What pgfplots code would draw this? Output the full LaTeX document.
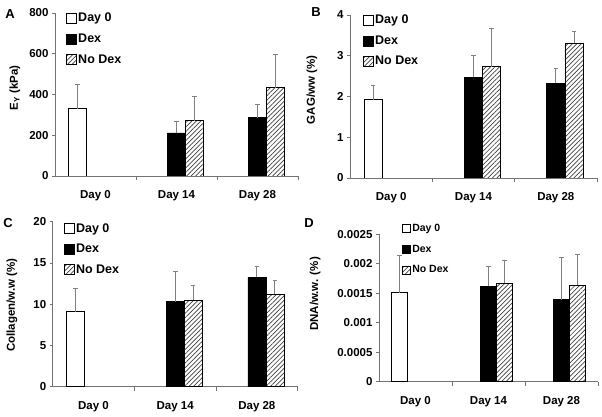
\documentclass[border=0pt]{standalone}
\usepackage{pgfplots}
\pgfplotsset{compat=1.18}
\usepackage{fontspec}
\setmainfont{Liberation Sans}
\usetikzlibrary{patterns.meta}
\definecolor{axgray}{gray}{0.45}
\definecolor{errgray}{gray}{0.5}
\pgfplotsset{
  panel/.style={
    scale only axis,
    axis x line*=bottom, axis y line*=left,
    xmin=-0.5, xmax=2.5, ymin=0,
    xtick={0,1,2}, xticklabels={Day 0,Day 14,Day 28},
    minor xtick={0.5,1.5,2.5},
    tick align=outside,
    major tick length=3pt, minor tick length=4pt,
    axis line style={axgray, line width=0.7pt},
    tick style={axgray, line width=0.7pt},
    major x tick style={draw=none},
    tick label style={font=\bfseries\fontsize{11.5}{13}\selectfont, black},
    /pgf/number format/assume math mode=true,
    xticklabel style={yshift=-8pt},
    legend cell align=left,
    legend style={draw=none, fill=none, anchor=north west, inner sep=0pt,
      font=\bfseries\fontsize{12.5}{14}\selectfont, row sep=7.5pt,
      nodes={inner sep=1.5pt}},
  },
  ylab/.style 2 args={every axis y label/.style={at={(axis description cs:#1,#2)}, rotate=90, anchor=center,
      font=\bfseries\fontsize{11.5}{13}\selectfont}},
  sq/.style={legend image code/.code={\draw[##1, line width=0.6pt] (0pt,-5pt) rectangle (10pt,5pt);}},
  sqs/.style={legend image code/.code={\draw[##1, line width=0.6pt] (0pt,-4pt) rectangle (8pt,4pt);}},
  eb/.style={forget plot, errgray, line width=0.8pt, mark=none, draw=none,
    error bars/y dir=plus, error bars/y explicit,
    error bars/error bar style={draw=errgray, line width=0.8pt},
    error bars/error mark=none},
  cap/.style={forget plot, only marks, mark=-, mark size=2.3pt,
    mark options={draw=errgray, line width=0.8pt}},
  dayzero/.style={ybar, bar width=0.22, bar shift=0, fill=white, draw=black, line width=0.6pt},
  dex/.style={ybar, bar width=0.22, bar shift=0, fill=black, draw=black, line width=0.6pt},
  nodex/.style={ybar, bar width=0.22, bar shift=0, draw=black, line width=0.6pt,
    pattern={Lines[angle=45, distance=3.2pt, line width=0.7pt]}, pattern color=black!75},
}
\begin{document}
\begin{tikzpicture}
\path[use as bounding box] (0pt,0pt) rectangle (602pt,417pt);
% Panel A
\begin{axis}[panel, at={(55pt,241pt)}, anchor=south west, width=243pt, height=163pt,
  ymax=800, ytick={0,200,400,600,800},
  ylabel={E\textsubscript{Y} (kPa)}, ylab={-0.165}{0.54},
  legend style={at={(axis description cs:0.045,1.01)}}]
\addplot[dayzero, sq] coordinates {(-0.22,330)};
\addplot[dex, sq] coordinates {(1,212) (2,287)};
\addplot[nodex, sq] coordinates {(1.22,271) (2.22,433)};
\legend{Day 0, Dex, No Dex}
\addplot[eb] coordinates {(-0.22,330) +- (0,122) (1,212) +- (0,54) (2,287) +- (0,64) (1.22,271) +- (0,118) (2.22,433) +- (0,165)};
\addplot[cap] coordinates {(-0.22,452) (1,266) (2,351) (1.22,389) (2.22,598)};
\end{axis}
% Panel B
\begin{axis}[panel, at={(350pt,239pt)}, anchor=south west, width=247pt, height=163pt,
  ymax=4, ytick={0,1,2,3,4},
  ylabel={GAG/ww (\%)}, ylab={-0.154}{0.54},
  legend style={at={(axis description cs:0.052,1.01)}}]
\addplot[dayzero, sq] coordinates {(-0.22,1.92)};
\addplot[dex, sq] coordinates {(1,2.47) (2,2.33)};
\addplot[nodex, sq] coordinates {(1.22,2.73) (2.22,3.31)};
\legend{Day 0, Dex, No Dex}
\addplot[eb] coordinates {(-0.22,1.92) +- (0,0.35) (1,2.47) +- (0,0.53) (2,2.33) +- (0,0.36) (1.22,2.73) +- (0,0.93) (2.22,3.31) +- (0,0.29)};
\addplot[cap] coordinates {(-0.22,2.27) (1,3.0) (2,2.69) (1.22,3.66) (2.22,3.6)};
\end{axis}
% Panel C
\begin{axis}[panel, at={(52.7pt,30.3pt)}, anchor=south west, width=245pt, height=165pt,
  ymax=20, ytick={0,5,10,15,20},
  ylabel={Collagen/w.w (\%)}, ylab={-0.166}{0.495},
  legend style={at={(axis description cs:0.045,1.0)}}]
\addplot[dayzero, sq] coordinates {(-0.22,9.09)};
\addplot[dex, sq] coordinates {(1,10.3) (2,13.25)};
\addplot[nodex, sq] coordinates {(1.22,10.46) (2.22,11.23)};
\legend{Day 0, Dex, No Dex}
\addplot[eb] coordinates {(-0.22,9.09) +- (0,2.83) (1,10.3) +- (0,3.64) (2,13.25) +- (0,1.38) (1.22,10.46) +- (0,1.78) (2.22,11.23) +- (0,1.62)};
\addplot[cap] coordinates {(-0.22,11.92) (1,13.94) (2,14.63) (1.22,12.24) (2.22,12.85)};
\end{axis}
% Panel D
\begin{axis}[panel, at={(379pt,35.3pt)}, anchor=south west, width=219pt, height=147.4pt,
  ymax=0.0025, ytick={0,0.0005,0.001,0.0015,0.002,0.0025},
  yticklabels={0,0.0005,0.001,0.0015,0.002,0.0025},
  scaled y ticks=false,
  ylabel={DNA/w.w. (\%)}, ylab={-0.292}{0.595},
  legend style={at={(axis description cs:0.105,1.08)}, font=\bfseries\fontsize{10.5}{12}\selectfont, row sep=9pt}]
\addplot[dayzero, sqs] coordinates {(-0.22,0.00151)};
\addplot[dex, sqs] coordinates {(1,0.00162) (2,0.00139)};
\addplot[nodex, sqs] coordinates {(1.22,0.00167) (2.22,0.00164)};
\legend{Day 0, Dex, No Dex}
\addplot[eb] coordinates {(-0.22,0.00151) +- (0,0.00064) (1,0.00162) +- (0,0.00034) (2,0.00139) +- (0,0.00071) (1.22,0.00167) +- (0,0.00038) (2.22,0.00164) +- (0,0.00052)};
\addplot[cap] coordinates {(-0.22,0.00215) (1,0.00196) (2,0.0021) (1.22,0.00205) (2.22,0.00216)};
\end{axis}
\node[font=\bfseries\fontsize{13}{15}\selectfont] at (10pt,403pt) {A};
\node[font=\bfseries\fontsize{13}{15}\selectfont] at (316pt,405pt) {B};
\node[font=\bfseries\fontsize{13}{15}\selectfont] at (8pt,194pt) {C};
\node[font=\bfseries\fontsize{13}{15}\selectfont] at (309pt,194pt) {D};
\end{tikzpicture}
\end{document}
